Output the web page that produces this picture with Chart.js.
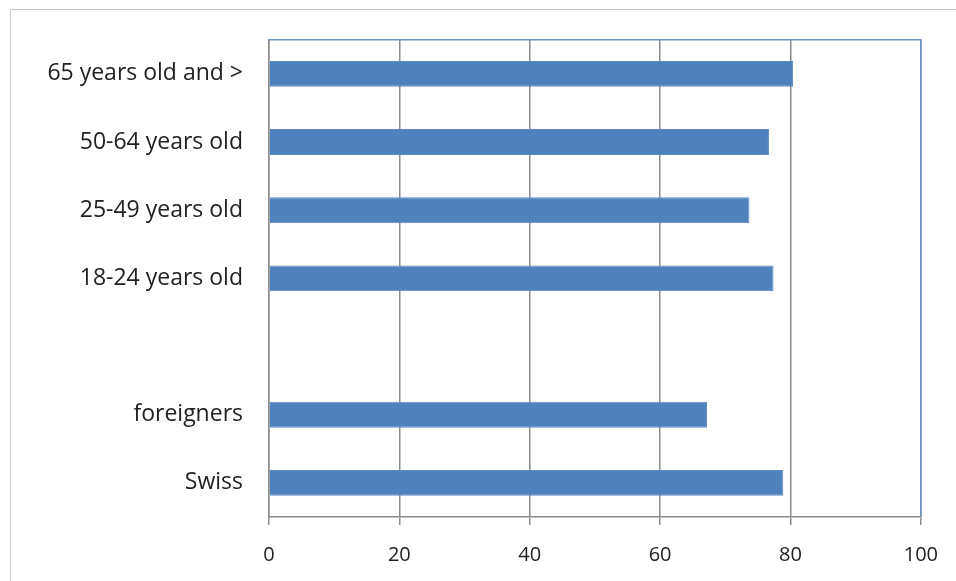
<!DOCTYPE html>
<html>
<head>
<meta charset="utf-8">
<script src="https://cdn.jsdelivr.net/npm/chart.js@4"></script>
<style>
  html, body { margin: 0; padding: 0; background: #fff; }
  #wrap { width: 956px; height: 581px; }
</style>
</head>
<body>
<div id="wrap"><canvas id="chart"></canvas></div>
<script>
// categories du haut vers le bas (la ligne vide sépare les deux groupes)
const categories = ["65 years old and >", "50-64 years old", "25-49 years old", "18-24 years old", "", "foreigners", "Swiss"];
// valeurs
const values = [80.4, 76.7, 73.7, 77.4, null, 67.2, 78.9];
// graduations de l'axe x
const xTicks = [0, 20, 40, 60, 80, 100];

// cadre gris de l'image + bord bleu de la zone de tracé (haut et droite)
const framePlugin = {
    id: "frame",
    beforeDraw(chart) {
        const c = chart.ctx;
        c.save();
        c.fillStyle = "#fff";
        c.fillRect(0, 0, chart.width, chart.height);
        c.strokeStyle = "#c8c8c8";
        c.lineWidth = 1;
        c.beginPath();
        c.moveTo(10.5, chart.height);
        c.lineTo(10.5, 9.5);
        c.lineTo(chart.width, 9.5);
        c.stroke();
        c.restore();
    },
    afterDatasetsDraw(chart) {
        const a = chart.chartArea;
        const c = chart.ctx;
        c.save();
        c.strokeStyle = "#6a93c8";
        c.lineWidth = 1.5;
        c.beginPath();
        c.moveTo(a.left, a.top);
        c.lineTo(a.right, a.top);
        c.lineTo(a.right, a.bottom);
        c.stroke();
        c.restore();
    }
};

new Chart(document.getElementById("chart"), {
    type: "bar",
    data: {
        labels: categories,
        datasets: [{
            data: values,
            backgroundColor: "#4f81bd",
            borderColor: "#5b8ac4",
            borderWidth: 1,
            categoryPercentage: 1,
            barPercentage: 0.38
        }]
    },
    options: {
        indexAxis: "y",
        responsive: true,
        maintainAspectRatio: false,
        animation: false,
        layout: { padding: { left: 10, top: 36, right: 35, bottom: 0 } },
        plugins: {
            legend: { display: false },
            tooltip: { enabled: false }
        },
        scales: {
            x: {
                min: 0,
                max: 100,
                afterBuildTicks: function (scale) {
                    scale.ticks = xTicks.map(v => ({ value: v }));
                },
                afterFit: function (scale) { scale.height = 64; },
                grid: {
                    color: "#8c8c8c",
                    lineWidth: 1.5,
                    drawTicks: true,
                    tickLength: 8
                },
                border: { display: true, color: "#8c8c8c", width: 1.5 },
                ticks: {
                    color: "#222",
                    padding: 18,
                    font: { family: "Open Sans", size: 20 }
                }
            },
            y: {
                afterFit: function (scale) { scale.width = 259; },
                grid: { display: false, drawTicks: false },
                border: { display: true, color: "#8c8c8c", width: 1.5 },
                ticks: {
                    color: "#222",
                    padding: 26,
                    font: { family: "Open Sans", size: 23 }
                }
            }
        }
    },
    plugins: [framePlugin]
});
</script>
</body>
</html>
